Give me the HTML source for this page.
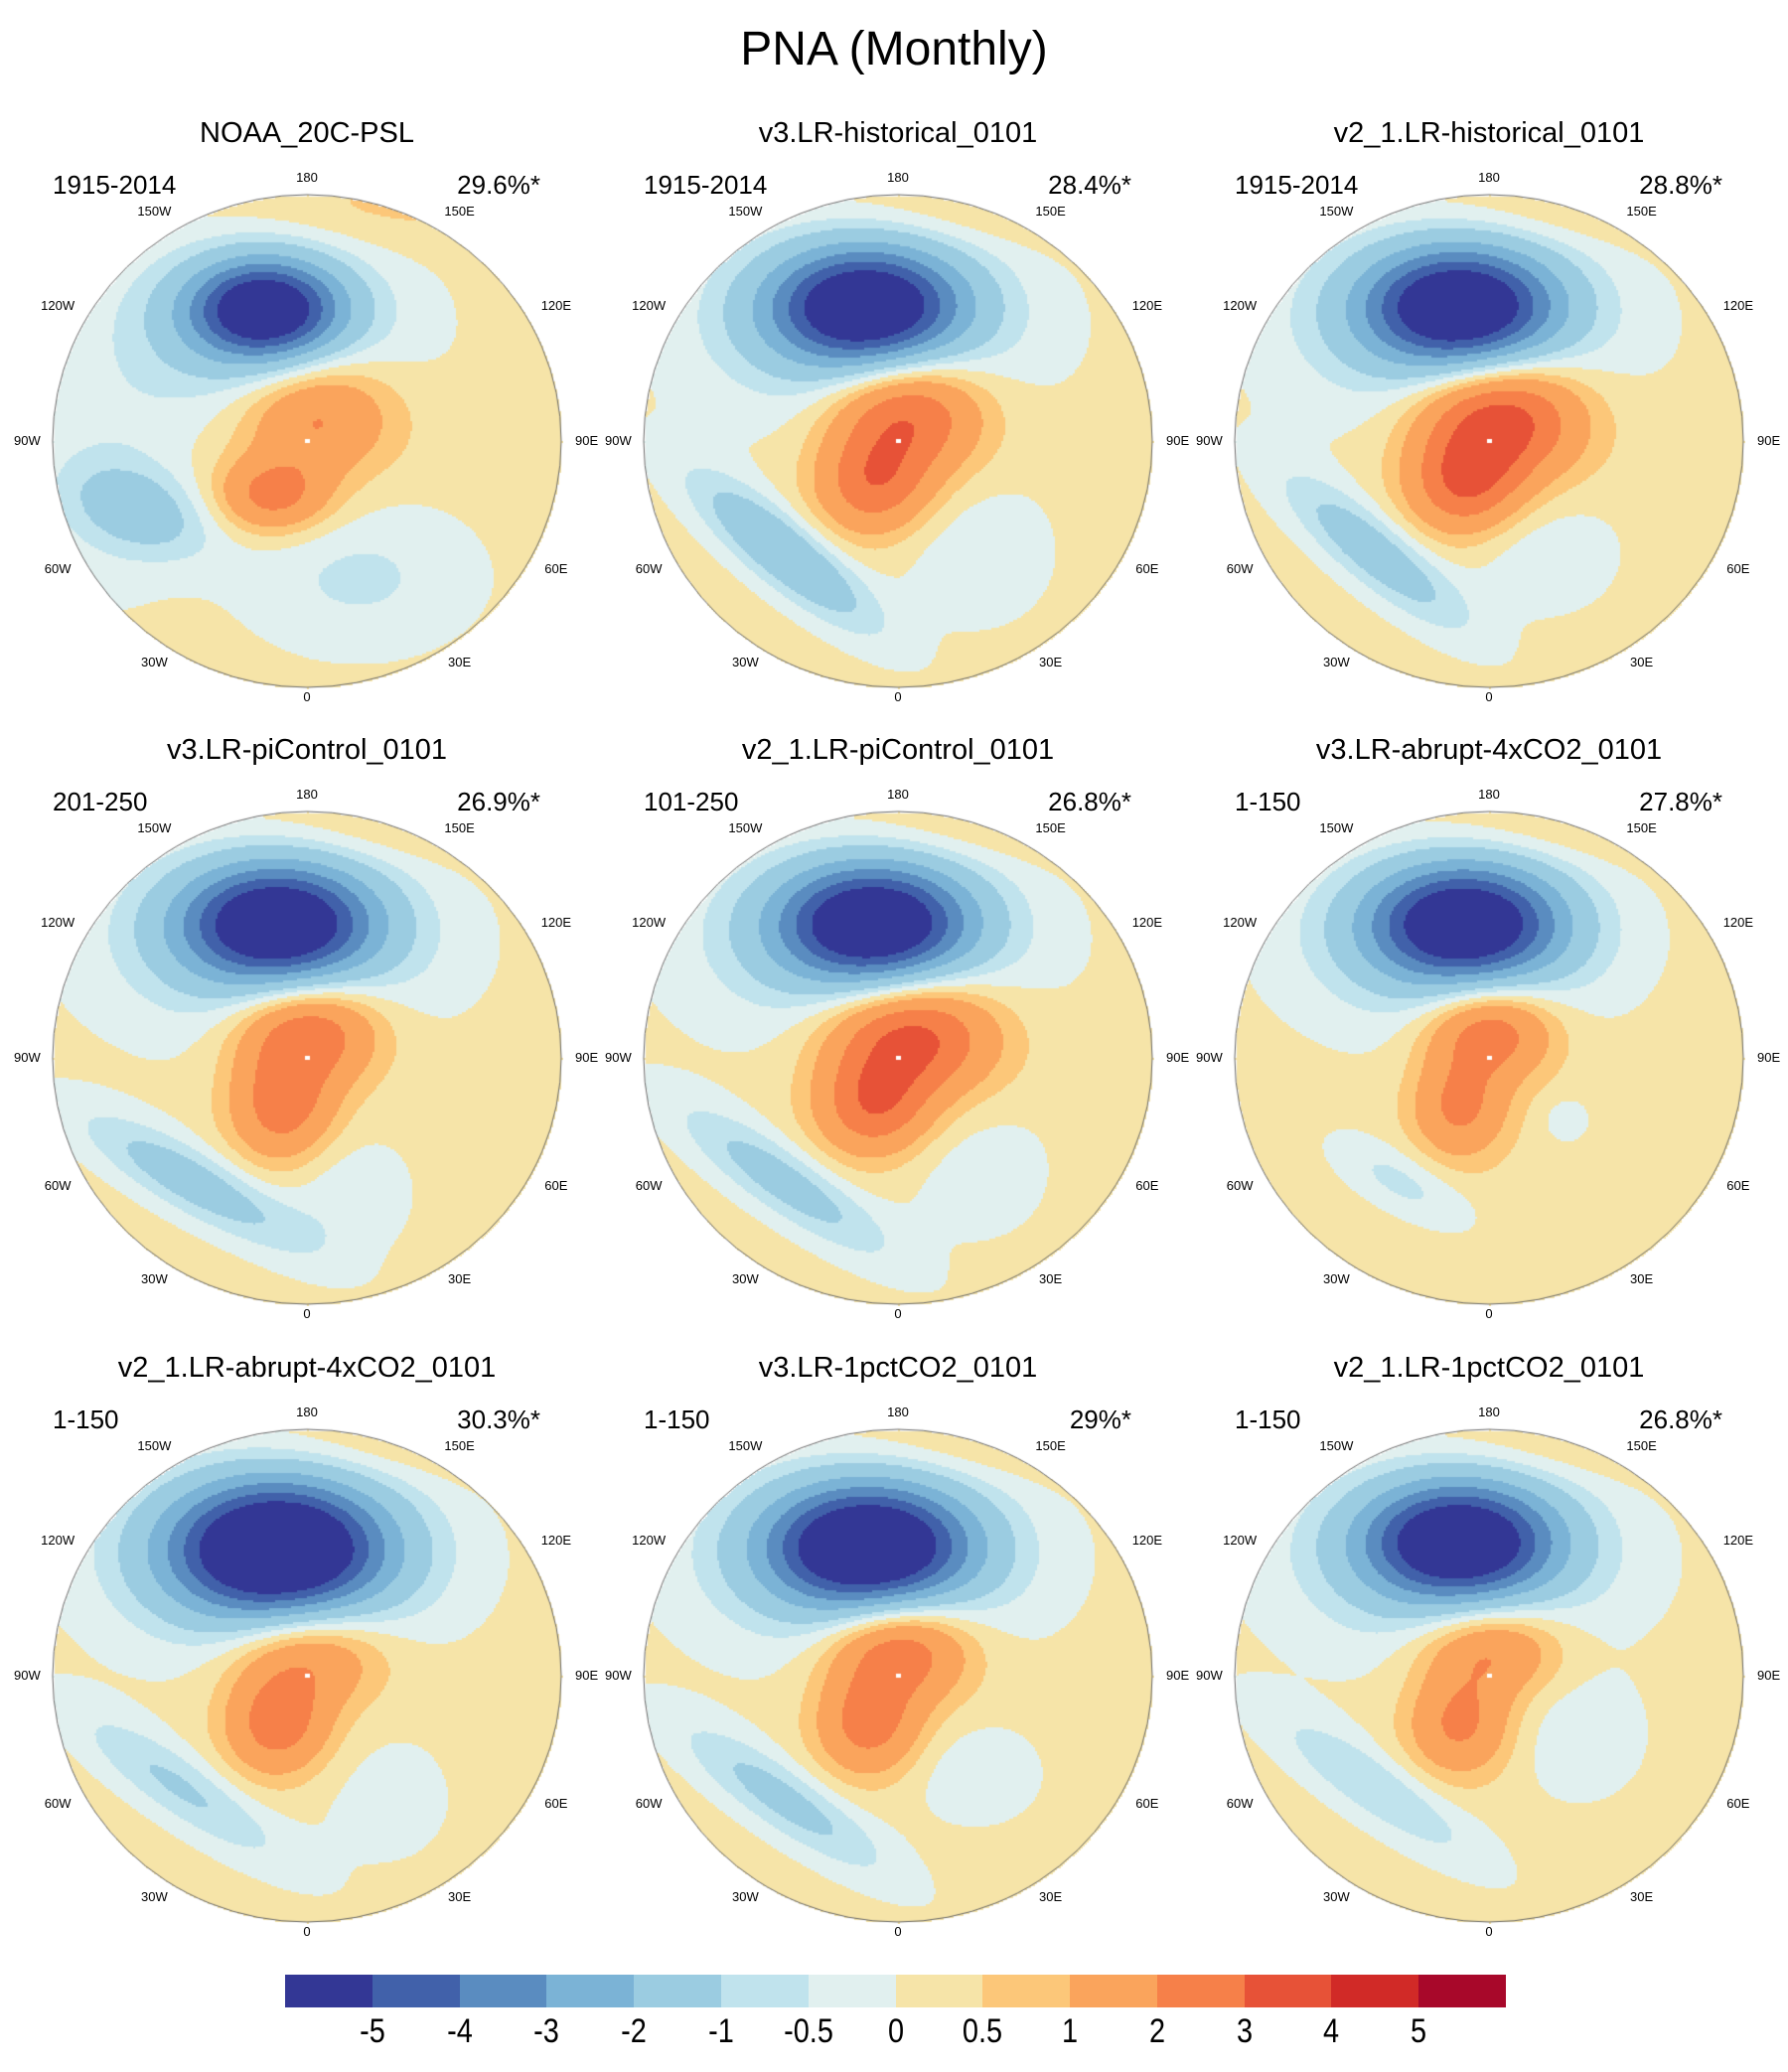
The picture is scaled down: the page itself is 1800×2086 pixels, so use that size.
<!DOCTYPE html>
<html><head><meta charset="utf-8">
<style>
body{margin:0;width:1800px;height:2086px;background:#fff;position:relative;overflow:hidden;font-family:"Liberation Sans",sans-serif;}
.t{position:absolute;white-space:nowrap;color:#000;}
canvas{position:absolute;}
</style></head>
<body>
<div class="t" style="left:0;width:1800px;text-align:center;top:22px;font-size:48px;">PNA (Monthly)</div>
<div id="panels"></div>
<div id="cbar"></div>
<script>
const levels=[-5,-4,-3,-2,-1,-0.5,0,0.5,1,2,3,4,5];
const colors=["#333795","#4161AA","#5A8CC0","#7BB3D6","#9BCCE1","#C0E3ED","#E1F0EF","#F6E4A8","#FCC779","#FAA45C","#F68049","#E75237","#D12A27","#A8082A"];
const titles=["NOAA_20C-PSL","v3.LR-historical_0101","v2_1.LR-historical_0101","v3.LR-piControl_0101","v2_1.LR-piControl_0101","v3.LR-abrupt-4xCO2_0101","v2_1.LR-abrupt-4xCO2_0101","v3.LR-1pctCO2_0101","v2_1.LR-1pctCO2_0101"];
const periods=["1915-2014","1915-2014","1915-2014","201-250","101-250","1-150","1-150","1-150","1-150"];
const pcts=["29.6%*","28.4%*","28.8%*","26.9%*","26.8%*","27.8%*","30.3%*","29%*","26.8%*"];
// blobs: [u, v, amplitude, su, sv, rotationDeg] in normalized map coordinates
const fields=[
 [[-0.17,-0.54,-6,0.28,0.19,0],[-0.2,-0.45,-1.6,0.55,0.35,0],[0.03,-0.12,2.3,0.3,0.25,0],[-0.14,0.22,2.2,0.22,0.15,0],[-0.65,0.28,-1.5,0.3,0.17,20],[0.2,0.55,-0.8,0.45,0.3,0],[-0.8,0.2,-0.5,0.3,0.5,0],[0.3,-0.95,0.45,0.6,0.15,0]],
 [[-0.13,-0.55,-6.5,0.36,0.23,0],[-0.15,-0.45,-1.3,0.65,0.4,0],[0.03,-0.12,3.2,0.3,0.25,0],[-0.1,0.18,2.3,0.22,0.2,0],[-0.45,0.45,-2.2,0.45,0.13,40],[0.3,0.45,-0.6,0.3,0.3,0],[0.3,-0.95,0.45,0.6,0.15,0]],
 [[-0.12,-0.55,-6.5,0.36,0.23,0],[-0.15,-0.45,-1.3,0.65,0.4,0],[0.04,-0.1,3.8,0.32,0.25,0],[-0.1,0.18,2.5,0.22,0.2,0],[-0.45,0.45,-1.8,0.45,0.13,40],[0.2,0.45,-0.6,0.3,0.25,0],[0.3,-0.95,0.45,0.6,0.15,0]],
 [[-0.12,-0.55,-6.5,0.36,0.23,0],[-0.15,-0.45,-1.3,0.65,0.4,0],[0.0,-0.12,3.0,0.28,0.22,0],[-0.1,0.2,2.3,0.2,0.22,0],[-0.45,0.5,-1.7,0.5,0.13,30],[0.15,0.55,-0.6,0.25,0.25,0],[0.3,-0.95,0.45,0.6,0.15,0]],
 [[-0.1,-0.55,-6.5,0.36,0.23,0],[-0.15,-0.45,-1.3,0.65,0.4,0],[0.05,-0.1,3.6,0.33,0.25,0],[-0.1,0.2,2.4,0.22,0.2,0],[-0.45,0.5,-1.6,0.5,0.13,35],[0.3,0.45,-0.5,0.3,0.3,0],[0.3,-0.95,0.45,0.6,0.15,0]],
 [[-0.1,-0.55,-6.5,0.36,0.23,0],[-0.15,-0.45,-1.2,0.65,0.4,0],[0.0,-0.12,2.8,0.25,0.2,0],[-0.12,0.2,2.0,0.18,0.2,0],[-0.35,0.5,-0.9,0.3,0.12,30],[0.3,0.25,-0.5,0.1,0.1,0],[0.3,-0.95,0.45,0.6,0.15,0]],
 [[-0.12,-0.52,-7.5,0.4,0.26,0],[-0.15,-0.45,-1.3,0.65,0.4,0],[0.0,-0.1,2.2,0.3,0.22,0],[-0.12,0.2,2.3,0.2,0.2,0],[-0.5,0.45,-1.3,0.5,0.13,35],[0.3,0.5,-0.4,0.3,0.3,0],[0.3,-0.95,0.45,0.6,0.15,0]],
 [[-0.12,-0.53,-7,0.38,0.24,0],[-0.15,-0.45,-1.3,0.65,0.4,0],[0.0,-0.12,3.0,0.28,0.22,0],[-0.12,0.2,2.2,0.2,0.2,0],[-0.45,0.5,-1.5,0.5,0.13,35],[0.3,0.4,-0.6,0.25,0.2,0],[0.3,-0.95,0.45,0.6,0.15,0]],
 [[-0.12,-0.55,-6.5,0.36,0.23,0],[-0.15,-0.45,-1.3,0.65,0.4,0],[0.0,-0.12,2.3,0.28,0.2,0],[-0.12,0.2,2.0,0.2,0.2,0],[-0.45,0.45,-1.2,0.5,0.13,35],[0.35,0.25,-0.6,0.25,0.25,0],[0.3,-0.95,0.45,0.6,0.15,0]]
];
const bases=[0.2,0.2,0.2,0.2,0.2,0.25,0.2,0.2,0.2];
const lonLabels=["180","150W","150E","120W","120E","90W","90E","60W","60E","30W","30E","0"];
const lonOff=[[0,-1.07],[-0.6,-0.93],[0.6,-0.93],[-0.98,-0.55],[0.98,-0.55],[-1.1,0],[1.1,0],[-0.98,0.52],[0.98,0.52],[-0.6,0.9],[0.6,0.9],[0,1.04]];
const colX=[309,904,1499], rowY=[444,1065,1687], R=256, RY=248;
const P=document.getElementById('panels');
function val(k,u,v){let s=bases[k];for(const b of fields[k]){const a=b[5]*Math.PI/180;const du=u-b[0],dv=v-b[1];const x=du*Math.cos(a)+dv*Math.sin(a),y=-du*Math.sin(a)+dv*Math.cos(a);s+=b[2]*Math.exp(-(x*x/(b[3]*b[3])+y*y/(b[4]*b[4])));}return s;}
function lvl(x){let i=0;while(i<levels.length&&x>=levels[i])i++;return i;}
for(let k=0;k<9;k++){
 const cx=colX[k%3], cy=rowY[Math.floor(k/3)];
 const c=document.createElement('canvas');
 
 
 c.width=2*R+4;c.height=2*RY+4;c.style.left=(cx-R-2)+'px';c.style.top=(cy-RY-2)+'px';
 const g=c.getContext('2d');
 const st=2;
 for(let y=0;y<2*RY+4;y+=st)for(let x=0;x<2*R+4;x+=st){
  const u=(x-R-2)/R,v=(y-RY-2)/RY;if(u*u+v*v>1.0)continue;
  g.fillStyle=colors[lvl(val(k,u,v))];g.fillRect(x,y,st,st);}
 g.beginPath();g.ellipse(R+2,RY+2,R,RY,0,0,Math.PI*2);g.strokeStyle='#666';g.lineWidth=1;g.stroke();
 g.fillStyle='#fff';g.fillRect(R,RY,5,4);
 P.appendChild(c);
 const t=document.createElement('div');t.className='t';
 
 
 t.style.cssText=`left:${cx-300}px;width:600px;text-align:center;top:${cy-326}px;font-size:29px;`;t.textContent=titles[k];P.appendChild(t);
 const p=document.createElement('div');p.className='t';
 
 
 p.style.cssText=`left:${cx-256}px;top:${cy-273}px;font-size:26px;`;p.textContent=periods[k];P.appendChild(p);
 const q=document.createElement('div');q.className='t';
 
 
 q.style.cssText=`left:${cx}px;width:${235}px;text-align:right;top:${cy-273}px;font-size:26px;`;q.textContent=pcts[k];P.appendChild(q);
 for(let j=0;j<12;j++){const l=document.createElement('div');l.className='t';
  
  
  l.style.cssText=`left:${cx+lonOff[j][0]*R-40}px;width:80px;text-align:center;top:${cy+lonOff[j][1]*RY-8}px;font-size:13px;`;l.textContent=lonLabels[j];P.appendChild(l);}
}
const CB=document.getElementById('cbar');
const x0=287,x1=1516,bw=(x1-x0)/14;
for(let i=0;i<14;i++){const d=document.createElement('div');
 
 
 d.style.cssText=`position:absolute;left:${x0+i*bw}px;top:1988px;width:${bw+0.5}px;height:33px;background:${colors[i]};`;CB.appendChild(d);}
for(let i=0;i<13;i++){const l=document.createElement('div');l.className='t';
 
 
 l.style.cssText=`left:${x0+(i+1)*bw-50}px;width:100px;text-align:center;top:2026px;font-size:34px;transform:scaleX(0.85);`;l.textContent=String(levels[i]);CB.appendChild(l);}
</script>
</body></html>
